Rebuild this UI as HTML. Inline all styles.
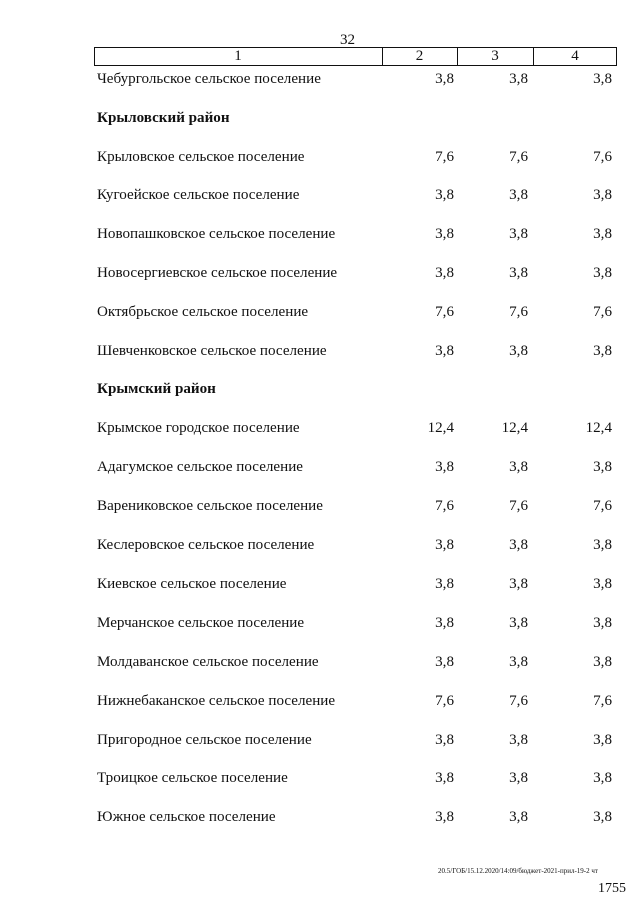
<!DOCTYPE html>
<html><head><meta charset="utf-8"><style>
body{margin:0;background:#fff;}
#p{position:relative;width:640px;height:905px;background:#fff;font-family:"Liberation Serif",serif;font-size:15.1px;color:#111;overflow:hidden}
.r{position:absolute;left:0;width:640px;height:18px;line-height:18px}
.n{position:absolute;left:97px}
.b{font-weight:bold}
.v{position:absolute;text-align:right;width:60px}
.v1{left:394px}.v2{left:468px}.v3{left:552px}
.box{position:absolute;left:94px;top:47px;width:523px;height:19px;border:1px solid #111;box-sizing:border-box}
.dv{position:absolute;top:47px;height:19px;border-left:1px solid #111}
.h{position:absolute;top:48px;line-height:17px;text-align:center}
</style></head><body><div id="p">
<div style="position:absolute;left:340px;top:31px;line-height:18px">32</div>
<div class="box"></div>
<div class="dv" style="left:382px"></div><div class="dv" style="left:457px"></div><div class="dv" style="left:533px"></div>
<div class="h" style="left:94px;width:288px">1</div>
<div class="h" style="left:382px;width:75px">2</div>
<div class="h" style="left:457px;width:76px">3</div>
<div class="h" style="left:533px;width:84px">4</div>

<div class="r" style="top:70px"><span class="n">Чебургольское сельское поселение</span><span class="v v1">3,8</span><span class="v v2">3,8</span><span class="v v3">3,8</span></div>
<div class="r" style="top:109px"><span class="n b">Крыловский район</span></div>
<div class="r" style="top:148px"><span class="n">Крыловское сельское поселение</span><span class="v v1">7,6</span><span class="v v2">7,6</span><span class="v v3">7,6</span></div>
<div class="r" style="top:186px"><span class="n">Кугоейское сельское поселение</span><span class="v v1">3,8</span><span class="v v2">3,8</span><span class="v v3">3,8</span></div>
<div class="r" style="top:225px"><span class="n">Новопашковское сельское поселение</span><span class="v v1">3,8</span><span class="v v2">3,8</span><span class="v v3">3,8</span></div>
<div class="r" style="top:264px"><span class="n">Новосергиевское сельское поселение</span><span class="v v1">3,8</span><span class="v v2">3,8</span><span class="v v3">3,8</span></div>
<div class="r" style="top:303px"><span class="n">Октябрьское сельское поселение</span><span class="v v1">7,6</span><span class="v v2">7,6</span><span class="v v3">7,6</span></div>
<div class="r" style="top:342px"><span class="n">Шевченковское сельское поселение</span><span class="v v1">3,8</span><span class="v v2">3,8</span><span class="v v3">3,8</span></div>
<div class="r" style="top:380px"><span class="n b">Крымский район</span></div>
<div class="r" style="top:419px"><span class="n">Крымское городское поселение</span><span class="v v1">12,4</span><span class="v v2">12,4</span><span class="v v3">12,4</span></div>
<div class="r" style="top:458px"><span class="n">Адагумское сельское поселение</span><span class="v v1">3,8</span><span class="v v2">3,8</span><span class="v v3">3,8</span></div>
<div class="r" style="top:497px"><span class="n">Варениковское сельское поселение</span><span class="v v1">7,6</span><span class="v v2">7,6</span><span class="v v3">7,6</span></div>
<div class="r" style="top:536px"><span class="n">Кеслеровское сельское поселение</span><span class="v v1">3,8</span><span class="v v2">3,8</span><span class="v v3">3,8</span></div>
<div class="r" style="top:575px"><span class="n">Киевское сельское поселение</span><span class="v v1">3,8</span><span class="v v2">3,8</span><span class="v v3">3,8</span></div>
<div class="r" style="top:614px"><span class="n">Мерчанское сельское поселение</span><span class="v v1">3,8</span><span class="v v2">3,8</span><span class="v v3">3,8</span></div>
<div class="r" style="top:653px"><span class="n">Молдаванское сельское поселение</span><span class="v v1">3,8</span><span class="v v2">3,8</span><span class="v v3">3,8</span></div>
<div class="r" style="top:692px"><span class="n">Нижнебаканское сельское поселение</span><span class="v v1">7,6</span><span class="v v2">7,6</span><span class="v v3">7,6</span></div>
<div class="r" style="top:731px"><span class="n">Пригородное сельское поселение</span><span class="v v1">3,8</span><span class="v v2">3,8</span><span class="v v3">3,8</span></div>
<div class="r" style="top:769px"><span class="n">Троицкое сельское поселение</span><span class="v v1">3,8</span><span class="v v2">3,8</span><span class="v v3">3,8</span></div>
<div class="r" style="top:808px"><span class="n">Южное сельское поселение</span><span class="v v1">3,8</span><span class="v v2">3,8</span><span class="v v3">3,8</span></div>

<div style="position:absolute;left:438px;top:866px;font-size:7px;line-height:10px;white-space:nowrap">20.5/ГОБ/15.12.2020/14:09/бюджет-2021-прил-19-2 чт</div>
<div style="position:absolute;left:598px;top:880px;font-size:14px;line-height:18px">1755</div>
</div></body></html>
